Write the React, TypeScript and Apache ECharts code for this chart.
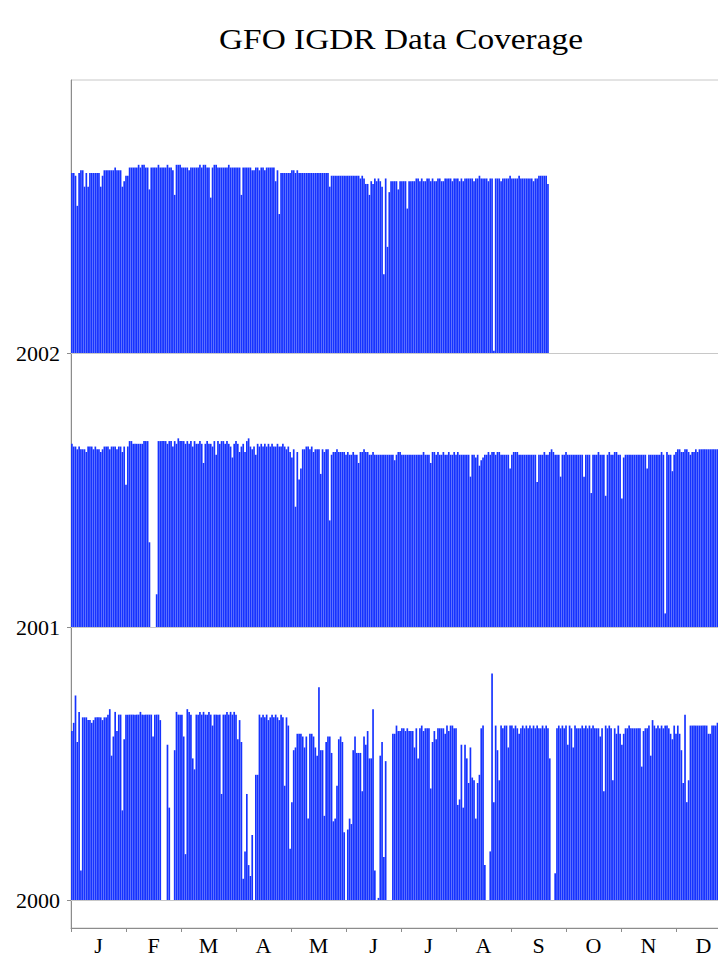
import React, { useEffect, useRef } from "react";
import * as echarts from "echarts";

const TITLE = "GFO IGDR Data Coverage";
const MONTHS = ["J", "F", "M", "A", "M", "J", "J", "A", "S", "O", "N", "D"];
const YEAR_TICKS = [2000, 2001, 2002];
const DAYS_IN_AXIS = 366;

// Daily coverage height, in hundredths of a year-row
const COV_2000 = [
  62, 65, 75, 58, 69, 11, 67, 67, 67, 66,
  66, 65, 66, 67, 67, 67, 67, 66, 67, 67,
  68, 70, 53, 60, 69, 62, 68, 68, 33, 59,
  68, 68, 68, 68, 68, 68, 68, 68, 69, 68,
  68, 68, 68, 68, 68, 60, 68, 68, 68, 66,
  0, 0, 0, 57, 34, 0, 0, 55, 69, 68,
  68, 68, 60, 17, 70, 69, 68, 52, 48, 68,
  68, 69, 68, 69, 68, 68, 69, 68, 64, 68,
  68, 68, 68, 39, 68, 68, 69, 68, 69, 68,
  69, 68, 59, 66, 58, 8, 18, 39, 13, 9,
  24, 0, 46, 46, 68, 67, 68, 67, 68, 66,
  67, 68, 67, 68, 67, 66, 68, 67, 42, 67,
  64, 19, 36, 55, 56, 61, 61, 61, 60, 56,
  60, 30, 61, 61, 60, 56, 53, 78, 55, 55,
  31, 58, 60, 60, 54, 29, 30, 42, 59, 60,
  58, 25, 0, 26, 30, 28, 55, 60, 54, 54,
  54, 40, 60, 57, 62, 52, 52, 70, 11, 0,
  1, 53, 58, 16, 51, 0, 0, 0, 61, 61,
  64, 62, 62, 63, 63, 62, 63, 62, 62, 62,
  56, 63, 52, 63, 64, 62, 63, 63, 63, 41,
  58, 62, 59, 63, 63, 63, 63, 61, 64, 62,
  64, 64, 63, 63, 35, 37, 57, 34, 57, 52,
  43, 56, 45, 44, 30, 43, 46, 63, 64, 13,
  0, 0, 18, 83, 36, 64, 55, 44, 64, 63,
  64, 64, 56, 64, 64, 63, 64, 63, 61, 63,
  64, 63, 64, 63, 64, 63, 64, 63, 64, 63,
  63, 64, 63, 64, 63, 52, 0, 0, 10, 63,
  64, 63, 64, 63, 64, 57, 64, 63, 56, 64,
  63, 63, 63, 64, 63, 64, 63, 64, 63, 64,
  63, 63, 63, 60, 63, 40, 64, 63, 64, 63,
  44, 63, 61, 64, 61, 57, 61, 63, 63, 64,
  63, 63, 63, 63, 63, 63, 49, 62, 63, 63,
  64, 53, 66, 64, 63, 64, 63, 64, 63, 64,
  64, 63, 61, 59, 64, 61, 64, 61, 55, 43,
  68, 36, 44, 64, 64, 64, 64, 64, 64, 64,
  64, 64, 64, 61, 61, 64, 64, 64, 65, 65,
  64, 65, 64, 64, 65, 64,
];

const COV_2001 = [
  67, 66, 66, 65, 66, 65, 65, 65, 64, 66,
  66, 66, 65, 66, 65, 65, 64, 65, 66, 66,
  66, 65, 66, 66, 66, 65, 66, 66, 64, 66,
  52, 66, 68, 68, 67, 67, 67, 67, 67, 67,
  68, 68, 68, 31, 0, 0, 0, 12, 68, 68,
  68, 68, 68, 67, 68, 68, 66, 68, 67, 69,
  68, 68, 68, 67, 68, 67, 68, 66, 68, 67,
  67, 68, 67, 60, 67, 68, 67, 67, 66, 68,
  63, 68, 67, 68, 68, 67, 68, 67, 66, 62,
  67, 68, 67, 64, 66, 67, 64, 68, 69, 66,
  65, 66, 63, 67, 66, 67, 66, 67, 66, 67,
  66, 67, 66, 66, 67, 66, 66, 67, 66, 65,
  66, 64, 62, 65, 44, 64, 54, 58, 65, 65,
  66, 66, 65, 66, 64, 65, 65, 65, 56, 65,
  64, 65, 65, 39, 63, 64, 64, 65, 64, 64,
  64, 64, 63, 64, 63, 63, 64, 63, 63, 60,
  64, 64, 65, 64, 64, 63, 63, 64, 63, 63,
  63, 63, 63, 63, 63, 63, 63, 63, 63, 61,
  63, 64, 64, 63, 63, 63, 63, 63, 63, 63,
  63, 63, 63, 63, 63, 64, 63, 63, 63, 60,
  64, 64, 63, 64, 63, 63, 64, 63, 63, 64,
  63, 63, 64, 63, 64, 63, 63, 63, 63, 63,
  63, 55, 63, 63, 62, 63, 59, 61, 62, 63,
  63, 64, 63, 64, 64, 63, 64, 64, 63, 63,
  63, 63, 63, 58, 63, 64, 64, 64, 63, 63,
  63, 63, 63, 63, 63, 63, 63, 63, 53, 63,
  63, 63, 64, 63, 63, 64, 65, 64, 63, 63,
  63, 55, 63, 63, 64, 63, 63, 63, 63, 63,
  63, 63, 63, 63, 55, 63, 63, 63, 49, 63,
  63, 63, 64, 63, 63, 63, 48, 63, 64, 63,
  63, 64, 64, 63, 63, 47, 62, 63, 63, 63,
  63, 63, 63, 63, 63, 63, 63, 63, 63, 58,
  63, 63, 63, 63, 63, 63, 63, 64, 63, 5,
  64, 63, 63, 57, 63, 64, 65, 65, 64, 64,
  65, 65, 64, 63, 64, 64, 65, 64, 65, 65,
  65, 65, 65, 65, 65, 65, 65, 65, 65, 65,
  65, 65, 65, 65, 65,
];

const COV_2002 = [
  66, 66, 65, 54, 66, 67, 67, 61, 66, 61,
  66, 66, 66, 66, 66, 66, 61, 65, 67, 67,
  67, 67, 67, 67, 68, 67, 67, 67, 61, 63,
  65, 65, 68, 68, 68, 68, 68, 69, 68, 69,
  69, 68, 68, 60, 68, 68, 68, 68, 69, 68,
  68, 68, 68, 69, 68, 68, 67, 58, 69, 69,
  69, 68, 68, 68, 68, 67, 68, 68, 68, 68,
  68, 69, 68, 69, 69, 68, 68, 57, 68, 69,
  69, 68, 68, 68, 68, 68, 68, 69, 68, 68,
  68, 68, 68, 68, 58, 68, 68, 68, 68, 68,
  67, 67, 68, 68, 67, 68, 68, 67, 68, 68,
  68, 68, 68, 63, 67, 51, 66, 66, 66, 66,
  66, 66, 67, 67, 66, 67, 66, 66, 66, 66,
  66, 66, 66, 66, 66, 66, 66, 66, 66, 66,
  66, 66, 66, 61, 65, 65, 65, 65, 65, 65,
  65, 65, 65, 65, 65, 65, 65, 65, 65, 65,
  64, 65, 64, 62, 62, 58, 63, 62, 64, 63,
  64, 63, 61, 29, 64, 39, 59, 63, 63, 63,
  63, 60, 63, 63, 63, 63, 53, 63, 63, 63,
  63, 64, 64, 63, 64, 63, 63, 64, 64, 63,
  64, 63, 63, 64, 64, 63, 63, 64, 64, 64,
  64, 63, 64, 64, 64, 63, 64, 63, 64, 64,
  64, 64, 64, 63, 64, 64, 65, 64, 64, 64,
  64, 63, 64, 64, 1, 64, 64, 64, 63, 64,
  64, 64, 64, 65, 64, 64, 64, 64, 65, 64,
  64, 64, 64, 64, 64, 64, 63, 64, 64, 65,
  65, 65, 65, 65, 62,
];

const ROWS = [
  { year: 2000, cov: COV_2000 },
  { year: 2001, cov: COV_2001 },
  { year: 2002, cov: COV_2002 },
];

const SERIF = '"Liberation Serif", "Times New Roman", serif';
const BAR_BLUE = "#1633ff";
const AXIS_GRAY = "#8c8c8c";
const GRID_GRAY = "#c8c8c8";

export default function App() {
  const ref = useRef<HTMLDivElement>(null);

  useEffect(() => {
    if (!ref.current) return;
    const chart = echarts.init(ref.current, null, { renderer: "svg" });
    const dayCats = Array.from({ length: DAYS_IN_AXIS }, (_, i) => String(i + 1));

    const series: any[] = [];
    ROWS.forEach(({ year, cov }, idx) => {
      const stack = "row" + year;
      series.push({
        type: "bar",
        stack,
        silent: true,
        barWidth: 1.68,
        barGap: "-100%",
        itemStyle: { color: "rgba(0,0,0,0)" },
        data: dayCats.map((_, i) => (i < cov.length ? year : null)),
      });
      const top: any = {
        type: "bar",
        stack,
        silent: true,
        barWidth: 1.68,
        barGap: "-100%",
        itemStyle: { color: BAR_BLUE },
        data: dayCats.map((_, i) => (i < cov.length ? cov[i] / 100 : null)),
      };
      if (idx === 0) {
        top.markLine = {
          silent: true,
          symbol: "none",
          label: { show: false },
          lineStyle: { color: GRID_GRAY, width: 1, type: "solid" },
          data: YEAR_TICKS.map((y) => ({ yAxis: y })),
        };
      }
      series.push(top);
    });

    chart.setOption({
      animation: false,
      backgroundColor: "#ffffff",
      grid: {
        left: 71,
        top: 80,
        width: 660,
        height: 848,
        show: true,
        borderColor: GRID_GRAY,
        borderWidth: 1,
      },
      graphic: [
        {
          type: "text",
          x: 401,
          y: 39,
          scaleX: 1.15,
          silent: true,
          style: {
            text: TITLE,
            fill: "#000",
            font: '29px "Liberation Serif", serif',
            textAlign: "center",
            textVerticalAlign: "middle",
          },
        },
      ],
      xAxis: [
        {
          type: "category",
          data: dayCats,
          show: false,
          boundaryGap: true,
        },
        {
          type: "category",
          data: MONTHS,
          position: "bottom",
          boundaryGap: true,
          axisLine: { show: true, lineStyle: { color: AXIS_GRAY, width: 1 } },
          axisTick: { show: true, interval: 0, length: 4, lineStyle: { color: AXIS_GRAY } },
          axisLabel: {
            interval: 0,
            color: "#000",
            fontFamily: SERIF,
            fontSize: 22,
            margin: 6,
          },
          splitLine: { show: false },
        },
      ],
      yAxis: {
        type: "value",
        min: 1999.9,
        max: 2003,
        axisLine: { show: true, lineStyle: { color: AXIS_GRAY, width: 1 } },
        axisTick: {
          show: true,
          length: 4,
          customValues: YEAR_TICKS,
          lineStyle: { color: AXIS_GRAY },
        },
        axisLabel: {
          customValues: YEAR_TICKS,
          color: "#000",
          fontFamily: SERIF,
          fontSize: 22,
          margin: 11,
          formatter: (v: number) => String(Math.round(v)),
        },
        splitLine: { show: false },
      },
      series,
    });

    return () => chart.dispose();
  }, []);

  return (
    <div
      style={{
        position: "fixed",
        left: 0,
        top: 0,
        width: 718,
        height: 959,
        overflow: "hidden",
        background: "#fff",
      }}
    >
      <div ref={ref} style={{ width: 760, height: 959 }} />
    </div>
  );
}
